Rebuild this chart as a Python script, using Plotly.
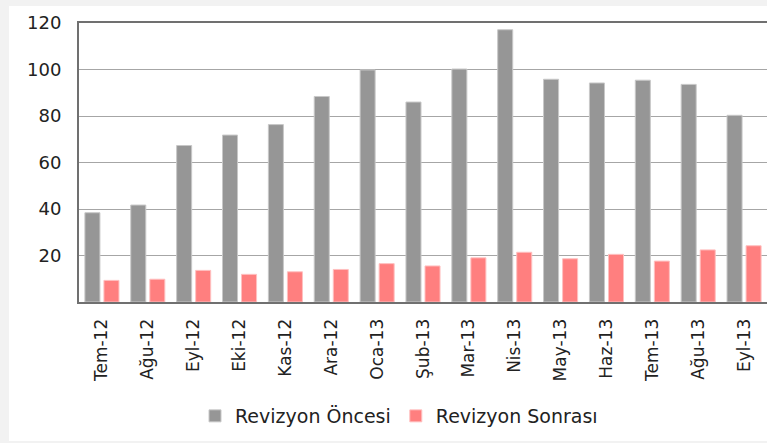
import plotly.graph_objects as go

categories = ["Tem-12", "Ağu-12", "Eyl-12", "Eki-12", "Kas-12", "Ara-12", "Oca-13",
              "Şub-13", "Mar-13", "Nis-13", "May-13", "Haz-13", "Tem-13", "Ağu-13", "Eyl-13"]
oncesi = [38.4, 41.7, 67.3, 71.8, 76.3, 88.4, 99.8, 86.0, 100.2, 117.1, 95.8, 94.2, 95.4, 93.6, 80.3]
sonrasi = [9.3, 9.8, 13.6, 11.9, 13.0, 14.0, 16.5, 15.5, 19.0, 21.4, 18.6, 20.5, 17.6, 22.4, 24.2]
yticks = [20, 40, 60, 80, 100, 120]

W, H = 767, 443
L, R, T, B = 79, 767, 23, 302

fig = go.Figure()
fig.add_bar(x=categories, y=oncesi, name="Revizyon Öncesi",
            marker=dict(color="#969696", line=dict(color="#c8c8c8", width=1)))
fig.add_bar(x=categories, y=sonrasi, name="Revizyon Sonrası",
            marker=dict(color="#ff7f7f", line=dict(color="#ffc0c0", width=1)))

pw, ph = R - L, B - T
fig.add_shape(type="rect", xref="paper", yref="paper", layer="below",
              x0=(9 - L) / pw, x1=(W - L) / pw + 0.01,
              y0=(B - 441) / ph, y1=(B - 6) / ph,
              fillcolor="white", line=dict(width=0))

fig.update_layout(
    width=W, height=H,
    margin=dict(l=L, r=W - R, t=T, b=H - B, autoexpand=False),
    paper_bgcolor="#f2f2f2", plot_bgcolor="white",
    barmode="group", bargap=0.17, bargroupgap=0.21,
    font=dict(family="DejaVu Sans", size=17, color="#222222"),
    legend=dict(orientation="h", x=(399 - L) / pw, xanchor="center",
                y=(B - 397) / ph, yanchor="top",
                font=dict(size=19), traceorder="normal",
                bgcolor="rgba(0,0,0,0)"),
    showlegend=True,
)
fig.update_xaxes(showline=True, linecolor="#707070", linewidth=2, mirror=True,
                 tickangle=-90, ticks="", tickfont=dict(size=17), automargin=False,
                 ticklabelstandoff=8)
fig.update_yaxes(range=[0, 120], tickvals=yticks, showgrid=True, gridcolor="#a6a6a6",
                 gridwidth=1, showline=True, linecolor="#707070", linewidth=2,
                 zeroline=False, ticks="", tickfont=dict(size=18), automargin=False,
                 ticklabelstandoff=12)

fig.write_html("out.html", config={"displayModeBar": False},
               post_script="document.body.style.margin='0';document.body.style.overflow='hidden';")
